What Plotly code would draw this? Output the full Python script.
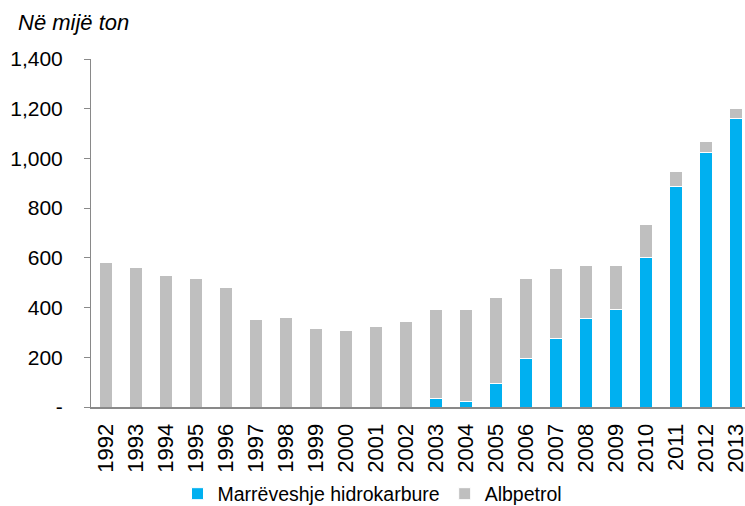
import plotly.graph_objects as go

years = [str(y) for y in range(1992, 2014)]
hidrokarbure = [0, 0, 0, 0, 0, 0, 0, 0, 0, 0, 0, 35, 21, 94, 197, 276, 355, 391, 603, 886, 1024, 1161]
albpetrol = [580, 563, 528, 515, 480, 352, 360, 316, 308, 322, 342, 359, 373, 348, 318, 283, 216, 180, 133, 63, 43, 38]
y_ticks = [0, 200, 400, 600, 800, 1000, 1200, 1400]
y_ticklabels = ["-", "200", "400", "600", "800", "1,000", "1,200", "1,400"]

BLUE = "#00B0F0"
GRAY = "#BFBFBF"
FONT = "Liberation Sans, Arial, sans-serif"

fig = go.Figure()
fig.add_trace(go.Bar(x=years, y=hidrokarbure, name="Marrëveshje hidrokarbure",
                     marker=dict(color=BLUE, line=dict(color="white", width=1))))
fig.add_trace(go.Bar(x=years, y=albpetrol, name="Albpetrol",
                     marker=dict(color=GRAY, line=dict(color="white", width=1))))

fig.update_layout(
    barmode="stack",
    bargap=0.54,
    width=745, height=506,
    margin=dict(l=91, r=0, t=59, b=99, autoexpand=False),
    plot_bgcolor="white", paper_bgcolor="white",
    font=dict(family=FONT, size=21, color="black"),
    showlegend=True,
    legend=dict(orientation="h", xref="container", x=0.5, xanchor="center",
                y=-0.25, yanchor="middle",
                font=dict(size=19.5), itemwidth=30, traceorder="normal"),
    xaxis=dict(type="category", range=[-0.5, 21.3], showline=True, linecolor="#898989",
               linewidth=2, ticks="", tickangle=-90, tickfont=dict(size=22), showgrid=False,
               ticklabelstandoff=6, automargin=False),
    yaxis=dict(range=[0, 1400], tickvals=y_ticks, ticktext=y_ticklabels, showline=True,
               linecolor="#898989", linewidth=1, ticks="outside", ticklen=6, tickcolor="#898989",
               showgrid=False, zeroline=False, tickfont=dict(size=21), ticklabelstandoff=17,
               automargin=False),
    annotations=[dict(text="<i>Në mijë ton</i>", xref="paper", yref="paper", x=-0.1147, y=1.106,
                      xanchor="left", yanchor="middle", showarrow=False, font=dict(size=22))],
)

fig.write_html("out.html", config={"displayModeBar": False},
               post_script="document.body.style.margin='0';")
